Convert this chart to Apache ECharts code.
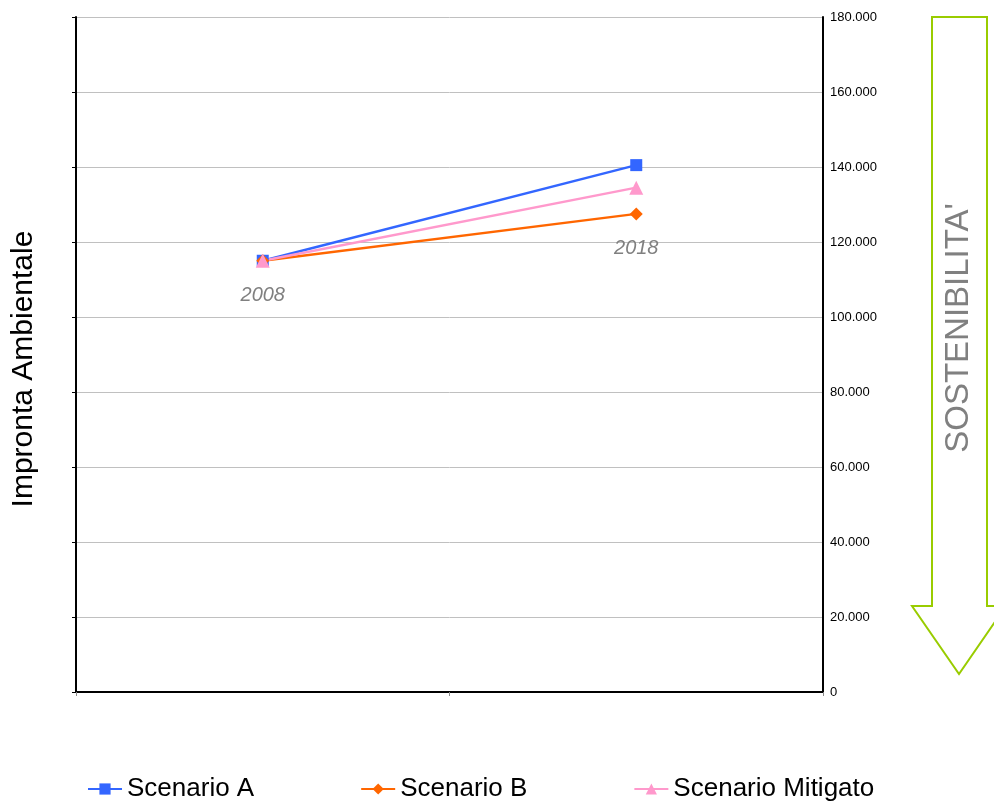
<!DOCTYPE html>
<html>
<head>
<meta charset="utf-8">
<script src="https://cdn.jsdelivr.net/npm/echarts@6/dist/echarts.min.js"></script>
<style>html,body{margin:0;padding:0;background:#fff;}#chart{width:994px;height:803px;}</style>
</head>
<body>
<div id="chart"></div>
<script>
var categories = ['2008', '2018'];
var scenarioA = [115000, 140500];
var scenarioB = [115000, 127500];
var scenarioMitigato = [115000, 134500];
var yTicks = [0, 20000, 40000, 60000, 80000, 100000, 120000, 140000, 160000, 180000];

function fmtIt(v) {
  var s = String(Math.round(v));
  return s.replace(/\B(?=(\d{3})+(?!\d))/g, '.');
}

var chart = echarts.init(document.getElementById('chart'));
var font = 'Liberation Sans, Arial, sans-serif';
chart.setOption({
  animation: false,
  backgroundColor: '#ffffff',
  grid: { left: 76, right: 171, top: 17, bottom: 111, containLabel: false, outerBoundsMode: 'none' },
  legend: {
    top: 771, left: 82,
    itemWidth: 34, itemHeight: 14, itemGap: 106,
    textStyle: { fontFamily: font, fontSize: 26, color: '#000' },
    data: ['Scenario A', 'Scenario B', 'Scenario Mitigato']
  },
  xAxis: {
    type: 'category', data: categories, boundaryGap: true,
    axisLine: { lineStyle: { color: '#000', width: 2 } },
    axisTick: { show: true, length: 4, lineStyle: { color: '#888' } },
    axisLabel: { show: false }
  },
  yAxis: [
    {
      type: 'value', position: 'left', min: yTicks[0], max: yTicks[yTicks.length - 1], interval: 20000,
      axisLine: { show: true, lineStyle: { color: '#000', width: 2 } },
      axisTick: { show: true, length: 4, lineStyle: { color: '#000' } },
      axisLabel: { show: false },
      splitLine: { show: true, lineStyle: { color: '#c0c0c0', width: 1 } }
    },
    {
      type: 'value', position: 'right', min: yTicks[0], max: yTicks[yTicks.length - 1], interval: 20000,
      axisLine: { show: true, lineStyle: { color: '#000', width: 2 } },
      axisTick: { show: false },
      axisLabel: { show: true, margin: 7, fontFamily: font, fontSize: 13, color: '#000', formatter: fmtIt },
      splitLine: { show: false }
    }
  ],
  series: [
    {
      name: 'Scenario A', type: 'line', data: scenarioA, yAxisIndex: 0,
      symbol: 'rect', symbolSize: 12, color: '#3366ff',
      lineStyle: { width: 2.5, color: '#3366ff' }, itemStyle: { color: '#3366ff' }
    },
    {
      name: 'Scenario B', type: 'line', data: scenarioB, yAxisIndex: 0,
      symbol: 'diamond', symbolSize: 13, color: '#ff6600',
      lineStyle: { width: 2.5, color: '#ff6600' }, itemStyle: { color: '#ff6600' },
      label: {
        show: true, position: 'bottom', distance: 18, formatter: '{b}',
        fontFamily: font, fontSize: 20, fontStyle: 'italic', color: '#808080'
      }
    },
    {
      name: 'Scenario Mitigato', type: 'line', data: scenarioMitigato, yAxisIndex: 0,
      symbol: 'triangle', symbolSize: 14, color: '#ff99cc',
      lineStyle: { width: 2.5, color: '#ff99cc' }, itemStyle: { color: '#ff99cc' }
    }
  ],
  graphic: [
    {
      type: 'text', x: 24, y: 369, rotation: Math.PI / 2,
      style: {
        text: 'Impronta Ambientale', fontFamily: font, fontSize: 30, fill: '#000',
        align: 'center', verticalAlign: 'middle'
      }
    },
    {
      type: 'polygon', z: 10,
      shape: { points: [[932, 17], [987, 17], [987, 606], [1006, 606], [959, 674], [912, 606], [932, 606]] },
      style: { fill: '#ffffff', stroke: '#99cc00', lineWidth: 2 }
    },
    {
      type: 'text', z: 11, x: 959, y: 328, rotation: Math.PI / 2,
      style: {
        text: "SOSTENIBILITA'", fontFamily: font, fontSize: 33, fill: '#808080',
        align: 'center', verticalAlign: 'middle'
      }
    }
  ]
});
</script>
</body>
</html>
